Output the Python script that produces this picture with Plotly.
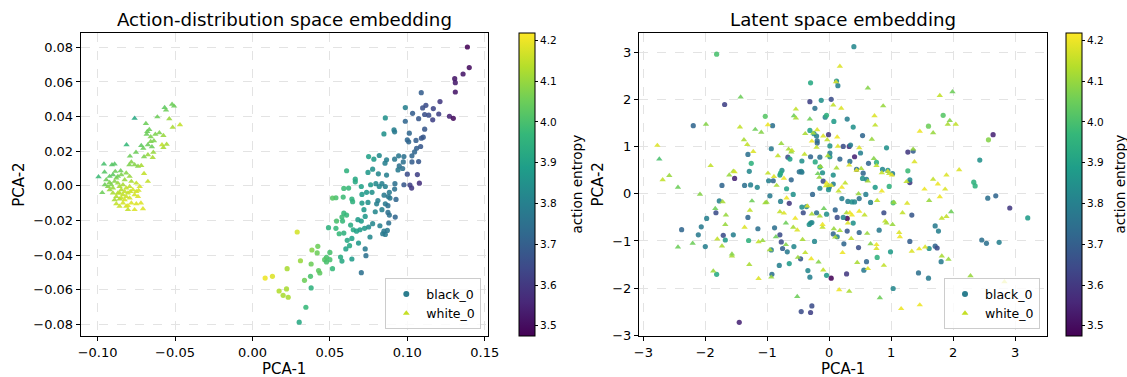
import plotly.graph_objects as go

# ---------------- Action-distribution space (PCA of policy outputs) ----------------
act_black_x = [0.1388, 0.1400, 0.1360, 0.1306, 0.1310, 0.1310, 0.1211, 0.1272, 0.1297, 0.1203,
               0.1090, 0.1120, 0.1099, 0.1168, 0.1138, 0.1164, 0.1112, 0.1073, 0.1034, 0.0987,
               0.0987, 0.0858, 0.0849, 0.0914, 0.0918, 0.1013, 0.1112, 0.1103, 0.1091, 0.1000,
               0.1009, 0.1056, 0.1086, 0.1060, 0.1047, 0.1030, 0.0978, 0.0944, 0.0918, 0.0866,
               0.0856, 0.0819, 0.0750, 0.0784, 0.0974, 0.1030, 0.1073, 0.0948, 0.0970, 0.0940,
               0.1000, 0.1065, 0.0978, 0.1017, 0.1028, 0.1078, 0.0920, 0.0918, 0.0866, 0.0813,
               0.0776, 0.0746, 0.0608, 0.0664, 0.0664, 0.0703, 0.0763, 0.0797, 0.0836, 0.0819,
               0.0858, 0.0884, 0.0850, 0.0877, 0.0888, 0.0772, 0.0737, 0.0707, 0.0621, 0.0590,
               0.0586, 0.0539, 0.0517, 0.0642, 0.0647, 0.0707, 0.0746, 0.0810, 0.0802, 0.0858,
               0.0875, 0.0927, 0.0875, 0.0884, 0.0922, 0.0880, 0.0836, 0.0793, 0.0720, 0.0728,
               0.0776, 0.0750, 0.0703, 0.0681, 0.0590, 0.0608, 0.0578, 0.0543, 0.0582, 0.0634,
               0.0651, 0.0694, 0.0724, 0.0672, 0.0823, 0.0849, 0.0841, 0.0858, 0.0871, 0.0491,
               0.0539, 0.0560, 0.0590, 0.0642, 0.0612, 0.0759, 0.0685, 0.0627, 0.0603, 0.0728,
               0.0733, 0.0642, 0.0703, 0.0569, 0.0578, 0.0500, 0.0478, 0.0500, 0.0466, 0.0478,
               0.0517, 0.0422, 0.0418, 0.0384, 0.0379, 0.0427, 0.0435, 0.0375, 0.0336, 0.0310,
               0.0224, 0.0289, 0.0379, 0.0082, 0.0129, 0.0172, 0.0220, 0.0198, 0.0231, 0.0345,
               0.0302]
act_black_y = [0.0802, 0.0683, 0.0646, 0.0619, 0.0596, 0.0542, 0.0487, 0.0402, 0.0390, 0.0415,
               0.0538, 0.0465, 0.0450, 0.0446, 0.0408, 0.0381, 0.0412, 0.0388, 0.0419, 0.0452,
               0.0373, 0.0392, 0.0300, 0.0323, 0.0312, 0.0304, 0.0327, 0.0281, 0.0275, 0.0265,
               0.0254, 0.0262, 0.0227, 0.0217, 0.0196, 0.0173, 0.0169, 0.0173, 0.0154, 0.0150,
               0.0131, 0.0175, 0.0169, 0.0154, 0.0138, 0.0138, 0.0140, 0.0115, 0.0100, 0.0092,
               0.0067, 0.0065, 0.0006, 0.0004, -0.0013, 0.0015, 0.0012, -0.0019, 0.0062, 0.0069,
               0.0096, 0.0077, 0.0087, 0.0038, 0.0023, -0.0004, 0.0006, 0.0012, 0.0012, -0.0004,
               -0.0004, -0.0038, -0.0054, -0.0062, -0.0071, -0.0038, -0.0038, -0.0050, -0.0013, -0.0015,
               -0.0065, -0.0069, -0.0071, -0.0077, -0.0092, -0.0100, -0.0096, -0.0085, -0.0104, -0.0104,
               -0.0115, -0.0079, -0.0154, -0.0169, -0.0181, -0.0215, -0.0138, -0.0150, -0.0138, -0.0177,
               -0.0219, -0.0238, -0.0204, -0.0196, -0.0158, -0.0169, -0.0181, -0.0204, -0.0204, -0.0227,
               -0.0254, -0.0254, -0.0246, -0.0262, -0.0231, -0.0262, -0.0277, -0.0281, -0.0258, -0.0242,
               -0.0246, -0.0277, -0.0273, -0.0304, -0.0315, -0.0296, -0.0331, -0.0346, -0.0365, -0.0365,
               -0.0404, -0.0423, -0.0502, -0.0412, -0.0435, -0.0385, -0.0413, -0.0427, -0.0427, -0.0440,
               -0.0479, -0.0350, -0.0388, -0.0371, -0.0452, -0.0490, -0.0504, -0.0523, -0.0546, -0.0433,
               -0.0479, -0.0267, -0.0590, -0.0533, -0.0523, -0.0608, -0.0596, -0.0633, -0.0644, -0.0702,
               -0.0788]
act_black_c = [3.48, 3.50, 3.52, 3.52, 3.53, 3.52, 3.60, 3.55, 3.50, 3.62,
               3.70, 3.65, 3.66, 3.63, 3.65, 3.62, 3.66, 3.68, 3.70, 3.80,
               3.72, 3.85, 3.85, 3.80, 3.78, 3.72, 3.68, 3.68, 3.68, 3.72,
               3.72, 3.70, 3.68, 3.70, 3.72, 3.72, 3.75, 3.77, 3.77, 3.80,
               3.80, 3.83, 3.90, 3.88, 3.75, 3.70, 3.68, 3.75, 3.75, 3.78,
               3.65, 3.62, 3.68, 3.62, 3.60, 3.58, 3.75, 3.75, 3.80, 3.82,
               3.85, 3.87, 3.95, 3.92, 3.92, 3.90, 3.87, 3.83, 3.80, 3.82,
               3.80, 3.78, 3.78, 3.77, 3.77, 3.85, 3.87, 3.88, 3.97, 3.98,
               3.98, 4.00, 4.02, 3.95, 3.95, 3.88, 3.85, 3.80, 3.80, 3.78,
               3.75, 3.72, 3.75, 3.75, 3.72, 3.75, 3.80, 3.82, 3.87, 3.87,
               3.82, 3.83, 3.88, 3.88, 3.97, 3.97, 3.98, 4.00, 3.97, 3.93,
               3.92, 3.88, 3.87, 3.90, 3.80, 3.78, 3.78, 3.78, 3.77, 3.95,
               3.97, 3.97, 3.95, 3.90, 3.92, 3.82, 3.87, 3.92, 3.90, 3.78,
               3.75, 3.88, 3.75, 3.93, 3.92, 4.00, 4.00, 4.00, 4.02, 4.00,
               3.97, 4.05, 4.05, 4.08, 4.05, 4.03, 4.03, 4.00, 4.05, 4.10,
               4.12, 4.17, 3.95, 4.20, 4.18, 4.13, 4.12, 4.12, 4.12, 3.97,
               3.92]

act_white_x = [-0.0519, -0.0506, -0.0567, -0.0558, -0.0761, -0.0614, -0.0537, -0.0688, -0.0468, -0.0515,
               -0.0666, -0.0679, -0.0683, -0.0627, -0.0601, -0.0575, -0.0657, -0.0636, -0.0657, -0.0675,
               -0.0584, -0.0554, -0.0813, -0.0718, -0.0705, -0.0649, -0.0575, -0.0640, -0.0752, -0.0675,
               -0.0700, -0.0791, -0.0644, -0.0782, -0.0795, -0.0761, -0.0739, -0.0718, -0.0959, -0.0907,
               -0.0890, -0.0700, -0.0955, -0.0886, -0.0851, -0.0994, -0.0675, -0.0970, -0.0735, -0.0750,
               -0.0720, -0.0707, -0.0750, -0.0804, -0.0815, -0.0879, -0.0858,
               -0.0944, -0.0922, -0.0933, -0.0912, -0.0901, -0.0890, -0.0879, -0.0869, -0.0858, -0.0847,
               -0.0836, -0.0825, -0.0815, -0.0804, -0.0793, -0.0782, -0.0772, -0.0761, -0.0836, -0.0869,
               -0.0901, -0.0922, -0.0847, -0.0825, -0.0793, -0.0782, -0.0836, -0.0815, -0.0869, -0.0847,
               -0.0815, -0.0793, -0.0901, -0.0922, -0.0750, -0.0728, -0.0739, -0.0879, -0.0890, -0.0858,
               -0.0804, -0.0761, -0.0953, -0.0825, -0.0858, -0.0789]
act_white_y = [0.0471, 0.0460, 0.0452, 0.0437, 0.0390, 0.0398, 0.0387, 0.0360, 0.0352, 0.0338,
               0.0325, 0.0313, 0.0298, 0.0298, 0.0306, 0.0290, 0.0283, 0.0260, 0.0256, 0.0237,
               0.0237, 0.0240, 0.0237, 0.0233, 0.0217, 0.0225, 0.0221, 0.0194, 0.0194, 0.0179,
               0.0167, 0.0171, 0.0163, 0.0137, 0.0121, 0.0121, 0.0113, 0.0117, 0.0125, 0.0121,
               0.0125, 0.0071, 0.0079, 0.0083, 0.0087, 0.0052, 0.0025, -0.0040, -0.0027, -0.0033,
               -0.0100, -0.0133, -0.0104, -0.0138, -0.0119, -0.0104, -0.0077,
               0.0035, 0.0019, -0.0004, 0.0006, -0.0013, 0.0025, 0.0044, 0.0015, -0.0004, -0.0023,
               0.0006, 0.0035, -0.0013, -0.0042, -0.0004, 0.0025, -0.0023, -0.0052, -0.0052, -0.0042,
               -0.0042, -0.0023, -0.0071, -0.0081, -0.0071, -0.0100, -0.0100, -0.0062, 0.0054, 0.0063,
               0.0073, 0.0054, 0.0063, 0.0054, 0.0015, -0.0004, -0.0062, -0.0062, -0.0081, -0.0119,
               -0.0115, -0.0138, 0.0006, -0.0033, -0.0042, -0.0033]
act_white_c = [4.05, 4.05, 4.03, 4.05, 3.92, 4.05, 4.10, 4.05, 4.15, 4.12,
               4.05, 4.05, 4.05, 4.07, 4.07, 4.10, 4.07, 4.07, 4.07, 4.05,
               4.15, 4.12, 3.97, 4.03, 4.05, 4.05, 4.12, 4.10, 4.05, 4.10,
               4.07, 4.05, 4.12, 4.08, 4.07, 4.08, 4.08, 4.12, 4.00, 4.02,
               4.02, 4.15, 4.02, 4.05, 4.05, 3.98, 4.15, 4.05, 4.17, 4.17,
               4.18, 4.18, 4.18, 4.15, 4.17, 4.15, 4.12,
               4.05, 4.07, 4.08, 4.07, 4.10, 4.08, 4.07, 4.10, 4.12, 4.13,
               4.12, 4.10, 4.15, 4.15, 4.15, 4.12, 4.17, 4.17, 4.15, 4.13,
               4.12, 4.10, 4.15, 4.17, 4.17, 4.18, 4.17, 4.16, 4.05, 4.07,
               4.08, 4.10, 4.03, 4.03, 4.15, 4.17, 4.18, 4.13, 4.12, 4.16,
               4.18, 4.18, 4.05, 4.15, 4.14, 4.16]

# ---------------- Latent space (PCA of hidden states) ----------------
lat_black_x = [0.398, -1.817, 0.118, 0.140, -0.301, -1.688, -0.312, -0.129, 0.032, -0.231,
               -2.194, -1.032, -0.914, -0.065, -0.043, 0.075, 0.290, 0.387, -0.312, -0.247,
               -0.204, -0.011, 0.538, -0.194, -0.194, 0.011, 0.226, 0.323, 0.344, 0.925,
               1.269, 1.355, 1.839, 1.602, 2.570, 2.645, 2.430, 2.333, 2.355, 2.559,
               2.688, 2.914, 3.204, 2.462, 2.538, 2.742, 1.710, 1.763, 1.710, 1.742,
               1.613, 1.806, 1.602, 1.441, 1.301, 1.333, 1.301, 1.301, 1.269, 1.032,
               0.968, 1.022, 0.946, 0.860, 0.742, 0.763, 0.634, 0.548, 0.602, 0.538,
               0.441, 0.505, 0.409, 0.333, 0.172, 0.011, 0.011, -0.151, -0.301, -0.667,
               -0.634, -0.441, -0.452, -0.226, -0.151, -0.108, -0.097, -0.151, 0.065, 0.065,
               0.000, -0.011, -0.935, -1.312, -1.258, -1.290, -1.527, -1.731, -1.366, -1.269,
               -1.161, -0.978, -0.903, -0.957, -0.796, -0.763, -0.785, -0.613, -0.688, -0.581,
               -0.484, -0.441, -0.785, -0.645, -0.441, -0.366, -0.419, -0.269, -0.204, -0.043,
               0.097, 0.129, 0.204, 0.301, 0.366, 0.409, 0.484, 0.591, 0.667, 0.290,
               0.226, 0.387, 0.290, 0.484, 0.065, 0.129, 0.237, 0.473, 0.806, 0.882,
               0.989, 0.774, 0.602, 0.559, 1.032, 0.280, 0.032, -0.043, -0.237, -0.301,
               -0.323, -0.280, -0.344, -0.312, -0.462, -0.570, -0.645, -0.677, -0.753, -0.774,
               -0.796, -0.882, -0.806, -0.935, -0.925, -1.151, -1.312, -1.301, -1.548, -1.710,
               -1.677, -1.774, -1.828, -1.978, -2.065, -2.113, -2.382, -2.000, -1.817, -1.452,
               -0.452, -0.280, -0.301]
lat_black_y = [3.13, 2.97, 2.40, 2.30, 2.36, 1.90, 1.96, 1.99, 2.01, 1.82,
               1.45, 1.65, 1.45, 1.63, 1.67, 1.54, 1.59, 1.42, 1.35, 1.28,
               1.23, 1.26, 1.24, 1.13, 1.08, 1.02, 1.01, 1.01, 1.04, 0.98,
               0.89, 0.91, 1.67, 1.44, 1.15, 1.26, 0.72, 0.25, 0.17, -0.09,
               -0.04, -0.30, -0.51, -0.98, -1.05, -1.03, -0.68, -0.79, -1.11, -1.15,
               -1.16, -1.44, -1.79, -1.68, -1.01, -0.45, 0.24, 0.30, 0.49, -0.19,
               0.16, 0.43, 0.50, 0.52, 0.14, 0.67, 0.65, 0.44, 0.31, 0.33,
               0.52, 0.87, 0.79, 0.69, 0.74, 0.79, 0.87, 0.78, 0.79, 0.78,
               0.74, 0.70, 0.48, 0.68, 0.57, 0.45, 0.27, 0.12, 0.40, 0.21,
               0.14, 0.09, 0.96, 0.84, 0.65, 0.48, 0.33, 0.18, 0.18, 0.19,
               0.14, 0.28, 0.28, -0.04, 0.40, 0.50, 0.44, 0.30, 0.11, -0.01,
               0.47, 0.46, -0.16, -0.20, -0.28, -0.27, -0.40, -0.01, -0.40, -0.43,
               -0.34, -0.50, -0.10, -0.16, -0.17, -0.17, -0.10, -0.01, -0.18, -0.52,
               -0.50, -0.62, -0.79, -0.82, -0.85, -0.91, -1.06, -1.14, -0.77, -0.40,
               -1.23, -1.35, -1.44, -1.62, -2.01, -1.70, -1.79, -1.73, -1.01, -0.62,
               -0.65, -0.61, -1.63, -1.77, -1.38, -1.12, -1.48, -1.23, -1.16, -1.02,
               -0.87, -0.72, -1.52, -1.19, -1.71, -0.74, -0.50, -0.99, -0.87, -0.88,
               -0.98, -0.15, -0.40, -0.52, -0.70, -0.87, -0.76, -1.12, -1.71, -2.73,
               -2.50, -2.38, -2.52]
lat_black_c = [3.82, 4.00, 3.85, 3.80, 3.92, 3.62, 3.62, 3.85, 3.65, 3.75,
               3.72, 4.02, 3.75, 3.82, 3.95, 3.88, 3.80, 3.85, 3.90, 3.85,
               3.80, 3.60, 3.72, 3.75, 3.72, 3.85, 3.65, 3.58, 3.80, 3.85,
               3.60, 3.70, 4.02, 4.05, 4.08, 3.55, 3.85, 3.95, 3.95, 3.75,
               3.72, 3.60, 3.88, 3.75, 3.75, 3.80, 3.78, 3.80, 3.72, 3.65,
               3.85, 3.78, 3.78, 3.75, 3.70, 3.68, 3.60, 3.82, 3.98, 4.00,
               3.95, 3.80, 3.85, 3.82, 3.88, 3.95, 3.72, 3.72, 3.80, 3.85,
               3.75, 3.80, 3.55, 3.75, 3.72, 3.85, 3.80, 3.75, 3.72, 3.65,
               3.90, 3.85, 3.85, 3.92, 3.95, 3.85, 3.65, 3.82, 3.85, 3.80,
               3.75, 3.85, 3.78, 3.75, 3.95, 3.82, 3.55, 3.72, 3.75, 3.80,
               3.82, 3.80, 3.72, 3.78, 3.88, 3.85, 3.92, 3.72, 3.90, 3.85,
               3.75, 3.78, 3.80, 3.60, 3.85, 3.82, 3.65, 3.72, 3.75, 3.85,
               3.72, 3.65, 3.80, 3.80, 3.85, 3.82, 3.75, 3.80, 3.80, 3.50,
               3.82, 3.85, 3.68, 3.72, 3.72, 3.80, 3.72, 3.65, 3.78, 3.65,
               3.88, 3.95, 3.72, 3.78, 3.82, 3.60, 3.48, 3.88, 3.82, 3.88,
               3.85, 3.82, 3.82, 3.80, 3.68, 3.82, 3.88, 3.78, 3.70, 3.65,
               3.65, 3.75, 3.80, 3.80, 3.75, 3.75, 3.72, 3.95, 3.80, 3.65,
               3.88, 3.80, 3.65, 3.80, 3.78, 3.78, 3.72, 3.80, 3.92, 3.55,
               3.65, 3.65, 3.62]

lat_white_x = [-2.774, -2.742, -2.688, -2.581, -2.441, -2.441, -2.204, -1.989, -2.086, -1.914,
               -1.839, -1.871, -1.806, -1.731, -1.720, -1.667, -1.677, -1.613, -1.570, -1.570,
               -1.548, -1.527, -1.441, -1.430, -1.366, -1.376, -1.323, -1.290, -1.280, -1.226,
               -1.247, -1.194, -1.140, -1.140, -1.097, -1.075, -1.032, -1.011, -0.989, -0.989,
               -0.957, -0.935, -0.892, -0.860, -0.849, -0.828, -0.796, -0.774, -0.731, -0.731,
               -0.699, -0.699, -0.688, -0.656, -0.613, -0.602, -0.581, -0.570, -0.538, -0.538,
               -0.548, -0.516, -0.516, -0.505, -0.430, -0.398, -0.387, -0.387, -0.355, -0.312,
               -0.290, -0.280, -0.280, -0.258, -0.204, -0.194, -0.183, -0.172, -0.161, -0.151,
               -0.140, -0.108, -0.108, -0.097, -0.097, -0.086, -0.054, -0.043, -0.032, -0.022,
               -0.011, 0.032, 0.065, 0.075, 0.097, 0.108, 0.118, 0.129, 0.140, 0.151,
               0.161, 0.172, 0.172, 0.194, 0.204, 0.215, 0.258, 0.280, 0.301, 0.323,
               0.323, 0.333, 0.355, 0.366, 0.441, 0.452, 0.473, 0.484, 0.484, 0.516,
               0.570, 0.613, 0.624, 0.624, 0.624, 0.667, 0.688, 0.720, 0.731, 0.742,
               0.763, 0.763, 0.763, 0.774, 0.817, 0.849, 0.849, 0.871, 0.882, 0.903,
               0.925, 0.946, 0.968, 1.011, 1.022, 1.043, 1.129, 1.140, 1.161, 1.183,
               1.247, 1.258, 1.333, 1.355, 1.376, 1.452, 1.462, 1.462, 1.538, 1.548,
               1.613, 1.677, 1.677, 1.753, 1.785, 1.785, 1.817, 1.817, 1.871, 1.892,
               1.892, 1.925, 1.946, 1.914, 1.989, 1.968, 2.043, 2.097, 2.280, 2.828]
lat_white_y = [1.03, 0.74, 0.30, 0.39, 0.14, -1.13, -1.05, 1.48, -0.01, 0.60,
               -0.31, -1.64, -0.96, -1.11, -0.17, -0.45, -0.65, 0.40, -1.32, -1.28,
               0.48, 0.47, 1.42, 2.06, -0.71, 1.15, 1.05, -1.50, -0.35, 0.90,
               -0.15, 1.37, -1.80, -1.02, 1.31, -0.99, -0.19, -0.18, 0.44, 1.47,
               -1.19, -1.77, 0.37, -0.91, 0.18, 0.81, -0.38, 1.07, -0.41, 0.33,
               -0.62, -1.08, -0.09, 0.95, 0.89, 0.92, -0.71, 1.66, 1.80, 1.61,
               -0.52, -0.77, -2.18, -1.35, -0.97, 0.84, 1.28, -1.25, -0.26, 1.59,
               -1.38, -0.43, 1.12, 1.29, 0.99, 1.36, 0.43, -1.45, 0.35, -0.47,
               0.58, -0.71, -0.65, 1.23, -1.62, -0.31, 0.17, 0.23, 1.15, 0.81,
               0.18, 0.18, 1.89, -0.74, -0.92, 2.38, 0.55, 1.21, 1.01, 0.06,
               -2.04, 2.71, -0.78, 1.82, 0.14, -1.25, 0.23, -0.40, -0.62, 0.61,
               -2.07, -0.40, -0.95, -0.45, 0.50, -1.46, 0.00, 0.98, -0.37, 0.54,
               -0.45, -0.84, 2.25, -1.59, 0.27, -1.06, 1.16, 0.75, 1.66, 1.46,
               0.60, -1.08, -1.16, -0.14, -2.21, 0.06, 0.45, 1.87, -1.52, -0.58,
               -0.62, 0.48, 0.43, 0.40, -0.65, -0.18, -0.82, -0.91, -2.44, -0.40,
               0.26, -0.20, -1.22, 0.95, 0.68, -1.17, 1.33, -2.36, 0.10, -1.13,
               -0.14, 1.30, 0.31, 0.21, -0.06, 2.09, -0.52, -1.32, 0.10, 0.40,
               -0.48, -1.39, 1.56, 1.48, 2.17, -0.38, 1.48, 0.51, -1.74, -1.87]
lat_white_c = [4.18, 4.00, 4.15, 4.10, 4.05, 4.05, 4.05, 4.08, 4.08, 4.15,
               4.05, 4.10, 4.15, 4.12, 4.12, 4.10, 4.10, 4.10, 4.12, 4.08,
               4.12, 4.17, 4.15, 4.05, 4.18, 4.12, 4.15, 4.12, 4.15, 4.18,
               4.05, 4.05, 4.18, 4.15, 4.08, 4.10, 4.12, 4.10, 4.15, 4.20,
               4.12, 4.10, 4.18, 4.05, 4.12, 4.15, 4.15, 4.10, 4.18, 4.20,
               4.05, 4.08, 4.20, 4.12, 4.10, 4.15, 4.12, 4.05, 4.15, 4.12,
               4.20, 4.18, 4.05, 4.10, 4.12, 4.15, 4.12, 4.15, 4.18, 4.05,
               4.20, 4.12, 4.20, 4.12, 4.15, 4.18, 4.05, 4.08, 4.10, 4.12,
               4.10, 4.15, 4.20, 4.18, 4.15, 4.05, 4.18, 4.20, 4.15, 4.12,
               4.15, 4.18, 4.15, 4.10, 4.12, 4.18, 4.12, 4.20, 4.18, 4.15,
               4.20, 4.18, 4.12, 4.18, 4.20, 4.20, 4.15, 4.12, 4.18, 4.18,
               4.12, 4.20, 4.15, 4.20, 4.20, 4.12, 4.10, 4.18, 4.20, 4.12,
               4.15, 4.10, 4.08, 4.18, 4.12, 4.08, 4.10, 4.08, 4.18, 4.15,
               4.15, 4.20, 4.18, 4.15, 4.05, 4.20, 4.15, 4.10, 4.15, 4.15,
               4.12, 4.18, 4.15, 4.20, 4.10, 4.10, 4.18, 4.20, 4.20, 4.15,
               4.15, 4.18, 4.18, 4.10, 4.18, 4.20, 4.20, 4.20, 4.20, 4.18,
               4.10, 4.10, 4.15, 4.20, 4.20, 4.15, 4.15, 4.12, 4.18, 4.18,
               4.15, 4.10, 4.08, 4.12, 4.05, 4.05, 4.15, 4.18, 4.10, 4.18]

entropy_ticks = [3.5, 3.6, 3.7, 3.8, 3.9, 4.0, 4.1, 4.2]
entropy_range = [3.475, 4.218]

FONT = "DejaVu Sans"
W, H = 1127, 377


def px_x(v):
    return v / W


def px_y(v):
    return 1 - v / H


fig = go.Figure()

panels = [
    ("x", "y", "coloraxis", "legend",
     (act_black_x, act_black_y, act_black_c), (act_white_x, act_white_y, act_white_c)),
    ("x2", "y2", "coloraxis2", "legend2",
     (lat_black_x, lat_black_y, lat_black_c), (lat_white_x, lat_white_y, lat_white_c)),
]

for xa, ya, cax, leg, black, white in panels:
    for (sx, sy, sc), sym, size in ((black, "circle", 5.2), (white, "triangle-up", 5.6)):
        fig.add_trace(go.Scatter(
            x=sx, y=sy, mode="markers", xaxis=xa, yaxis=ya, showlegend=False,
            marker=dict(color=sc, coloraxis=cax, symbol=sym, size=size, opacity=0.88,
                        line=dict(width=0)),
            hoverinfo="x+y",
        ))
    # legend entries
    fig.add_trace(go.Scatter(x=[None], y=[None], mode="markers", name="black_0",
                             xaxis=xa, yaxis=ya, legend=leg,
                             marker=dict(color="#2c7d8e", symbol="circle", size=6)))
    fig.add_trace(go.Scatter(x=[None], y=[None], mode="markers", name="white_0",
                             xaxis=xa, yaxis=ya, legend=leg,
                             marker=dict(color="#c5df25", symbol="triangle-up", size=6)))

axis_common = dict(
    showline=True, mirror=True, linecolor="black", linewidth=1,
    ticks="outside", ticklen=4, tickwidth=1, tickcolor="black",
    showgrid=True, gridcolor="#e3e3e3", griddash="dash", gridwidth=0.8,
    zeroline=False, tickfont=dict(family=FONT, size=13, color="black"),
)

y_dom = [px_y(336), px_y(33)]

fig.update_layout(
    width=W, height=H,
    margin=dict(l=0, r=0, t=0, b=0, autoexpand=False),
    paper_bgcolor="white", plot_bgcolor="white",
    font=dict(family=FONT, color="black"),
    xaxis=dict(domain=[px_x(80.7), px_x(488)], range=[-0.1109, 0.1521],
               tickvals=[-0.10, -0.05, 0.0, 0.05, 0.10, 0.15], tickformat=".2f", **axis_common),
    yaxis=dict(domain=y_dom, range=[-0.0868, 0.0883],
               tickvals=[-0.08, -0.06, -0.04, -0.02, 0.0, 0.02, 0.04, 0.06, 0.08],
               tickformat=".2f", **axis_common),
    xaxis2=dict(domain=[px_x(639), px_x(1046.7)], range=[-3.07, 3.51], anchor="y2",
                tickvals=[-3, -2, -1, 0, 1, 2, 3], **axis_common),
    yaxis2=dict(domain=y_dom, range=[-3.02, 3.42], anchor="x2",
                tickvals=[-3, -2, -1, 0, 1, 2, 3], **axis_common),
)

for name, xpos in (("coloraxis", 519.3), ("coloraxis2", 1066)):
    fig.update_layout({name: dict(
        colorscale="Viridis", cmin=entropy_range[0], cmax=entropy_range[1],
        colorbar=dict(
            x=px_x(xpos), xanchor="left", xpad=0, ypad=0,
            y=px_y(336), yanchor="bottom", len=(336 - 33) / H, lenmode="fraction",
            thickness=16, thicknessmode="pixels",
            outlinewidth=1, outlinecolor="black",
            tickvals=entropy_ticks, tickformat=".1f", ticks="outside", ticklen=3,
            tickcolor="black", tickfont=dict(family=FONT, size=10.5, color="black"),
        ),
    )})

legend_style = dict(
    bgcolor="rgba(255,255,255,0.8)", bordercolor="#cccccc", borderwidth=1,
    font=dict(family=FONT, size=12.5, color="black"),
    xanchor="right", yanchor="bottom", tracegroupgap=0, itemwidth=30,
)
fig.update_layout(
    legend=dict(x=px_x(481.3), y=px_y(329.3), **legend_style),
    legend2=dict(x=px_x(1040), y=px_y(329.3), **legend_style),
)

# panel titles
for text, x in (("Action-distribution space embedding", 284.4), ("Latent space embedding", 842.8)):
    fig.add_annotation(text=text, x=px_x(x), y=px_y(19.5), xref="paper", yref="paper",
                       xanchor="center", yanchor="middle", showarrow=False,
                       font=dict(family=FONT, size=18.2, color="black"))

# axis and colorbar labels
for text, x, y, ang, size in (("PCA-1", 284.4, 369, 0, 15), ("PCA-1", 842.8, 369, 0, 15),
                              ("PCA-2", 18.3, 184.5, -90, 15), ("PCA-2", 597, 184.5, -90, 15),
                              ("action entropy", 576, 184.5, -90, 13.6),
                              ("action entropy", 1119, 184.5, -90, 13.6)):
    fig.add_annotation(text=text, x=px_x(x), y=px_y(y), xref="paper", yref="paper",
                       xanchor="center", yanchor="middle", showarrow=False, textangle=ang,
                       font=dict(family=FONT, size=size, color="black"))

fig.write_html("out.html")
